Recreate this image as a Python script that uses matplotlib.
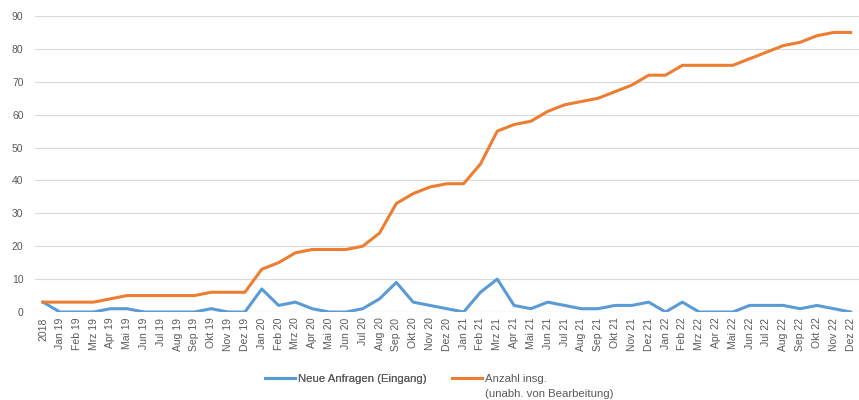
import matplotlib
matplotlib.use("Agg")
import matplotlib.pyplot as plt

plt.rcParams['font.family'] = ['Liberation Sans', 'DejaVu Sans']

# x-axis categories
labels = ["2018",
          "Jan 19", "Feb 19", "Mrz 19", "Apr 19", "Mai 19", "Jun 19",
          "Jul 19", "Aug 19", "Sep 19", "Okt 19", "Nov 19", "Dez 19",
          "Jan 20", "Feb 20", "Mrz 20", "Apr 20", "Mai 20", "Jun 20",
          "Jul 20", "Aug 20", "Sep 20", "Okt 20", "Nov 20", "Dez 20",
          "Jan 21", "Feb 21", "Mrz 21", "Apr 21", "Mai 21", "Jun 21",
          "Jul 21", "Aug 21", "Sep 21", "Okt 21", "Nov 21", "Dez 21",
          "Jan 22", "Feb 22", "Mrz 22", "Apr 22", "Mai 22", "Jun 22",
          "Jul 22", "Aug 22", "Sep 22", "Okt 22", "Nov 22", "Dez 22"]

neue_anfragen = [3,
                 0, 0, 0, 1, 1, 0, 0, 0, 0, 1, 0, 0,
                 7, 2, 3, 1, 0, 0, 1, 4, 9, 3, 2, 1,
                 0, 6, 10, 2, 1, 3, 2, 1, 1, 2, 2, 3,
                 0, 3, 0, 0, 0, 2, 2, 2, 1, 2, 1, 0]

anzahl_insg = [3,
               3, 3, 3, 4, 5, 5, 5, 5, 5, 6, 6, 6,
               13, 15, 18, 19, 19, 19, 20, 24, 33, 36, 38, 39,
               39, 45, 55, 57, 58, 61, 63, 64, 65, 67, 69, 72,
               72, 75, 75, 75, 75, 77, 79, 81, 82, 84, 85, 85]

series_names = ["Neue Anfragen (Eingang)", "Anzahl insg."]
series_note = "(unabh. von Bearbeitung)"

blue = "#5B9BD5"
orange = "#ED7D31"
grey = "#595959"

fig = plt.figure(figsize=(8.59, 4.0), dpi=100)
ax = fig.add_axes([0.0403, 0.22, 0.9597, 0.74])

x = list(range(len(labels)))
l1, = ax.plot(x, neue_anfragen, color=blue, lw=2.2, solid_joinstyle="round")
l2, = ax.plot(x, anzahl_insg, color=orange, lw=2.2, solid_joinstyle="round")

ax.set_xlim(-0.5, len(labels) - 0.5)
ax.set_ylim(0, 90)
ax.set_yticks(range(0, 91, 10))
ax.set_xticks(x)
ax.set_xticklabels(labels, rotation=90, fontsize=7.5, color=grey)
ax.tick_params(axis="y", labelsize=7.5, colors=grey, length=0, pad=8)
ax.tick_params(axis="x", length=0, pad=4)

ax.grid(axis="y", color="#D9D9D9", lw=0.8)
ax.set_axisbelow(True)
for s in ax.spines.values():
    s.set_visible(False)
ax.axhline(0, color="#D9D9D9", lw=0.8, zorder=0)

# legend, one entry per box so each sits where the original has it
leg_y = 1 - 379 / 400
leg_kw = dict(loc="center left", frameon=False, fontsize=8.2, labelcolor=grey,
              handlelength=2.6, handletextpad=0.3, borderpad=0,
              borderaxespad=0)
leg1 = fig.legend([l1], [series_names[0]], bbox_to_anchor=(265 / 859, leg_y),
                  **leg_kw)
fig.legend([l2], [series_names[1]], bbox_to_anchor=(452 / 859, leg_y), **leg_kw)
fig.add_artist(leg1)
fig.text(485 / 859, 1 - 394 / 400, series_note, fontsize=8.2, color=grey,
         va="center", ha="left")

fig.savefig("out.png", dpi=100)
